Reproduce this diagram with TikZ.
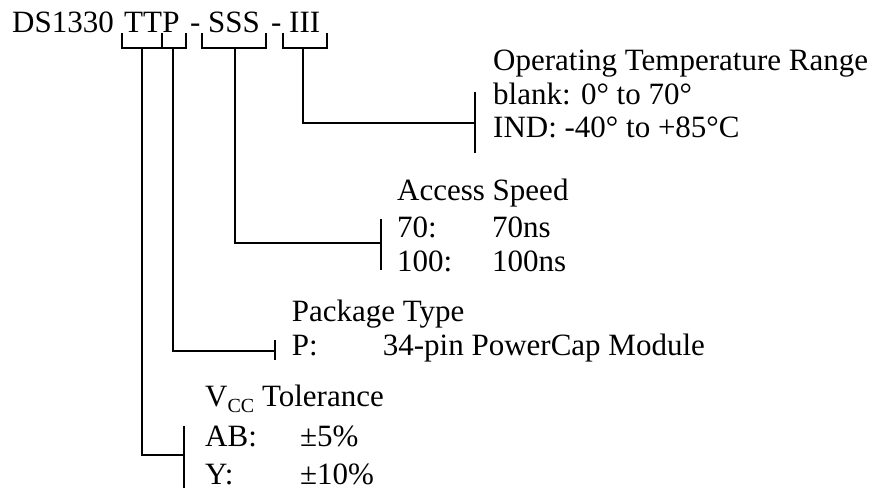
\documentclass[tikz,border=0pt]{standalone}
\usepackage{fontspec}
\setmainfont{Liberation Serif}
\usepackage{tikz}
\tikzstyle{code}=[anchor=base west,inner sep=0pt,
                  font=\fontsize{31}{35}\selectfont]
\tikzstyle{wire}=[draw=black,line width=1.8pt]

\begin{document}
\begin{tikzpicture}[x=1pt,y=-1pt]
    \useasboundingbox (0,0) rectangle (884,489);
    \newcommand{\optcol}[2][95pt]{\makebox[#1][l]{#2}}
    \newcommand{\partbrk}[2]{\draw[wire] (#1,33) -- (#1,47.7) -- (#2,47.7) -- (#2,33);}
    \node (ds)   at ( 12,33) [code]{DS1330};
    \node (tt)   at (124,33) [code]{TT};
    \node (p)    at (tt.base east) [code]{P};
    \node (dsh1) at (190,33) [code]{-};
    \node (sss)  at (208,33) [code]{SSS};
    \node (dsh2) at (271,33) [code]{-};
    \node (iii)  at (289,33) [code]{III};
    \partbrk{121.7}{161.7}
    \partbrk{161.7}{186}
    \partbrk{201.7}{265.7}
    \partbrk{282.7}{326.7}
    \coordinate (ttdrop)  at (142.3,47.7);
    \coordinate (pdrop)   at (173.3,47.7);
    \coordinate (sssdrop) at (235,47.7);
    \coordinate (iiidrop) at (303.3,47.7);
    % operating temperature range
    \node (temphd) at (493,71)    [code]{Operating Temperature Range};
    \node (temp1)  at (493,104.5) [code]{blank: 0° to 70°};
    \node (temp2)  at (493,138)   [code]{IND: -40° to +85°C};
    \coordinate (temptop) at (475,91.7);
    \coordinate (tempbot) at (475,152.7);
    \coordinate (tempbar) at (475,122.7);
    \draw[wire] (temptop) -- (tempbot);
    \draw[wire] (iiidrop) |- (tempbar);
    % access speed
    \node (spdhd) at (397,200.5) [code]{Access Speed};
    \node (spd1)  at (397,238)   [code]{\optcol{70:}70ns};
    \node (spd2)  at (397,272)   [code]{\optcol{100:}100ns};
    \coordinate (spdtop) at (381,219.3);
    \coordinate (spdbot) at (381,270);
    \coordinate (spdbar) at (381,243.3);
    \draw[wire] (spdtop) -- (spdbot);
    \draw[wire] (sssdrop) |- (spdbar);
    % package type
    \node (pkghd) at (291.7,321.5) [code]{Package Type};
    \node (pkg1)  at (291.7,355)   [code]{\optcol[91pt]{P:}34-pin PowerCap Module};
    \coordinate (pkgtop) at (275,340);
    \coordinate (pkgbot) at (275,360);
    \coordinate (pkgbar) at (275,351);
    \draw[wire] (pkgtop) -- (pkgbot);
    \draw[wire] (pdrop) |- (pkgbar);
    % vcc tolerance
    \node (vcchd) at (205,406.5) [code]{V\raisebox{-6pt}{\fontsize{20}{20}\selectfont CC} Tolerance};
    \node (vcc1)  at (205,446.5) [code]{\optcol{AB:}±5\%};
    \node (vcc2)  at (205,484)   [code]{\optcol{Y:}±10\%};
    \coordinate (vcctop) at (184,426);
    \coordinate (vccbot) at (184,488);
    \coordinate (vccbar) at (184,455);
    \draw[wire] (vcctop) -- (vccbot);
    \draw[wire] (ttdrop) |- (vccbar);
\end{tikzpicture}
\end{document}
